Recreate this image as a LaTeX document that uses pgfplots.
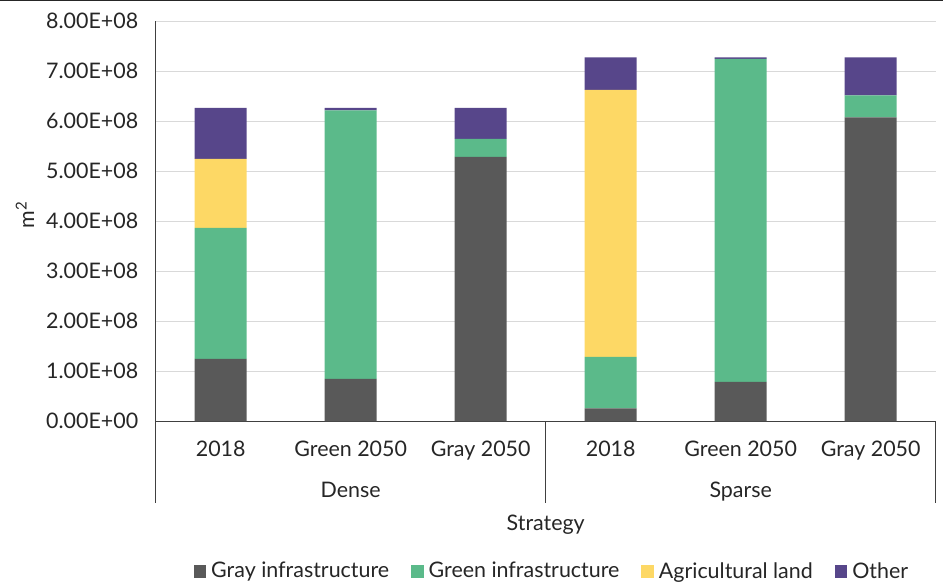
\documentclass[border=0pt]{standalone}
\usepackage{fontspec}
\setmainfont{Lato}
\usepackage{pgfplots}
\pgfplotsset{compat=1.18}
\definecolor{cgray}{HTML}{595959}
\definecolor{cgreen}{HTML}{5BBA8A}
\definecolor{cyellow}{HTML}{FDD865}
\definecolor{cpurple}{HTML}{57468A}
\definecolor{cgrid}{HTML}{D9D9D9}
\definecolor{caxis}{HTML}{404040}
\definecolor{ctext}{HTML}{262626}
\newcommand{\lfont}{\fontsize{21.5}{25}\selectfont}
\begin{document}
\begin{tikzpicture}
\begin{axis}[
  at={(155.7bp,160.7bp)}, anchor=south west,
  scale only axis, width=780bp, height=400bp,
  xmin=-0.5, xmax=5.5, ymin=0, ymax=8e8,
  ybar stacked, bar width=52bp,
  axis x line=bottom, axis y line=left,
  axis line style={caxis, line width=1.2bp, -},
  xtick={0,1,2,3,4,5},
  xticklabels={2018, Green 2050, Gray 2050, 2018, Green 2050, Gray 2050},
  ytick={0,1e8,2e8,3e8,4e8,5e8,6e8,7e8,8e8},
  yticklabels={0.00E+00,1.00E+08,2.00E+08,3.00E+08,4.00E+08,5.00E+08,6.00E+08,7.00E+08,8.00E+08},
  scaled y ticks=false,
  major tick length=0pt,
  ymajorgrids, major grid style={cgrid, line width=1bp},
  tick label style={font=\lfont, text=ctext},
  xticklabel style={yshift=-16bp},
  yticklabel style={xshift=-14bp},
  clip=false,
  legend style={at={(0.508,-0.374)}, anchor=center, draw=none, font=\lfont, text=ctext,
    /tikz/every odd column/.append style={column sep=3bp},
    /tikz/every even column/.append style={column sep=20bp}},
  legend columns=4,
  legend cell align=left,
  legend image code/.code={\fill[#1] (0bp,-7bp) rectangle (12.5bp,5.5bp);},
]
\addplot[fill=cgray, draw=none] coordinates {(0,1.25e8) (1,0.85e8) (2,5.29e8) (3,0.26e8) (4,0.79e8) (5,6.08e8)};
\addlegendentry{Gray infrastructure}
\addplot[fill=cgreen, draw=none] coordinates {(0,2.62e8) (1,5.37e8) (2,0.36e8) (3,1.03e8) (4,6.46e8) (5,0.44e8)};
\addlegendentry{Green infrastructure}
\addplot[fill=cyellow, draw=none] coordinates {(0,1.38e8) (1,0) (2,0) (3,5.34e8) (4,0) (5,0)};
\addlegendentry{Agricultural land}
\addplot[fill=cpurple, draw=none] coordinates {(0,1.02e8) (1,0.05e8) (2,0.62e8) (3,0.65e8) (4,0.03e8) (5,0.76e8)};
\addlegendentry{Other}
\draw[caxis, line width=1.2bp] (axis cs:-0.5,0) -- ([yshift=-82bp]axis cs:-0.5,0);
\draw[caxis, line width=1.2bp] (axis cs:2.5,0) -- ([yshift=-82bp]axis cs:2.5,0);
\draw[caxis, line width=1.2bp] (axis cs:5.5,0) -- ([yshift=-82bp]axis cs:5.5,0);
\node[anchor=base, yshift=-76bp, font=\lfont, text=ctext] at (axis cs:1,0) {Dense};
\node[anchor=base, yshift=-76bp, font=\lfont, text=ctext] at (axis cs:4,0) {Sparse};
\node[anchor=base, yshift=-109bp, font=\lfont, text=ctext] at (axis cs:2.5,0) {Strategy};
\end{axis}
\node[rotate=90, font=\lfont, text=ctext] at (25bp,367bp) {m\textsuperscript{2}};
\draw[black!85, line width=2.5bp] (0,582bp) -- (943bp,582bp);
\pgfresetboundingbox
\path[use as bounding box] (0,0) rectangle (943bp,582bp);
\end{tikzpicture}
\end{document}
